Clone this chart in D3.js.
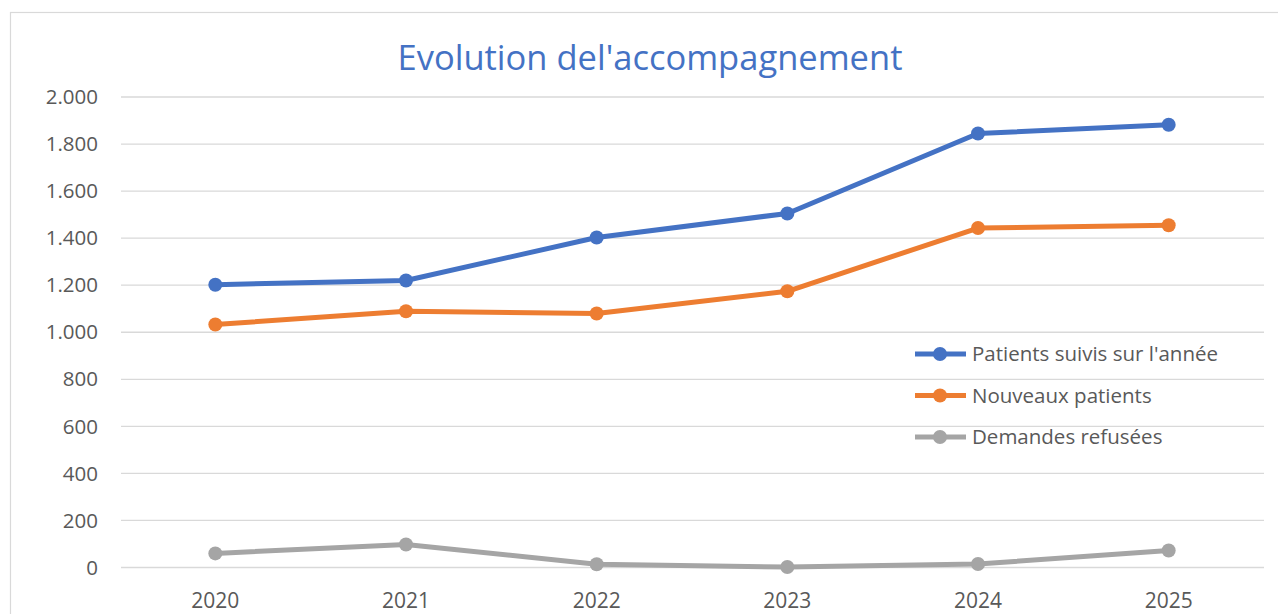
<!DOCTYPE html>
<html>
<head>
<meta charset="utf-8">
<script src="https://cdn.jsdelivr.net/npm/d3@7"></script>
<style>
  body { margin: 0; background: white; }
  text { font-family: "Open Sans", "Liberation Sans", sans-serif; }
</style>
</head>
<body>
<div id="chart"></div>
<script>
var years = ["2020","2021","2022","2023","2024","2025"]
var suivis = [1202, 1220, 1403, 1505, 1845, 1882]
var nouveaux = [1033, 1089, 1080, 1174, 1443, 1455]
var refusees = [60, 98, 14, 2, 15, 72]
var yTicks = [0, 200, 400, 600, 800, 1000, 1200, 1400, 1600, 1800, 2000]
var seriesNames = ["Patients suivis sur l'année", "Nouveaux patients", "Demandes refusées"]
var seriesColors = ["#4472C4", "#ED7D31", "#A5A5A5"]

var W = 1278, H = 614
var svg = d3.select("#chart").append("svg")
  .attr("width", W)
  .attr("height", H)

// chart frame
svg.append("rect")
  .attr("x", 10.5).attr("y", 12.5)
  .attr("width", 1300).attr("height", 700)
  .attr("fill", "white")
  .attr("stroke", "#d9d9d9")
  .attr("stroke-width", 1.2)

var x = d3.scaleBand().domain(years).range([120, 1264])
var y = d3.scaleLinear().domain([0, 2000]).range([567.5, 97])

// gridlines
svg.append("g").selectAll("line")
  .data(yTicks)
  .enter()
  .append("line")
  .attr("x1", 121).attr("x2", 1264)
  .attr("y1", function(d){ return y(d) })
  .attr("y2", function(d){ return y(d) })
  .attr("stroke", "#d9d9d9")
  .attr("stroke-width", 1.3)

// y labels
function fmt(d)
{
  return d3.format(",")(d).replace(/,/g, ".")
}
svg.append("g").selectAll("text")
  .data(yTicks)
  .enter()
  .append("text")
  .attr("x", 98)
  .attr("y", function(d){ return y(d) })
  .attr("dy", "0.35em")
  .attr("text-anchor", "end")
  .attr("font-size", 20.5)
  .attr("fill", "#595959")
  .text(fmt)

// x labels
svg.append("g").selectAll("text")
  .data(years)
  .enter()
  .append("text")
  .attr("x", function(d){ return x(d) + x.bandwidth()/2 })
  .attr("y", 608)
  .attr("text-anchor", "middle")
  .attr("font-size", 21)
  .attr("fill", "#595959")
  .text(function(d){ return d })

// title
svg.append("text")
  .attr("x", 650).attr("y", 70)
  .attr("text-anchor", "middle")
  .attr("font-size", 34.5)
  .attr("fill", "#4472C4")
  .text("Evolution del'accompagnement")

var allSeries = [suivis, nouveaux, refusees]
var line = d3.line()
  .x(function(d,i){ return x(years[i]) + x.bandwidth()/2 })
  .y(function(d){ return y(d) })

allSeries.forEach(function(vals, s)
{
  var g = svg.append("g")
  g.append("path")
    .attr("d", line(vals))
    .attr("fill", "none")
    .attr("stroke", seriesColors[s])
    .attr("stroke-width", 5)
    .attr("stroke-linejoin", "round")
    .attr("stroke-linecap", "round")
  g.selectAll("circle")
    .data(vals)
    .enter()
    .append("circle")
    .attr("cx", function(d,i){ return x(years[i]) + x.bandwidth()/2 })
    .attr("cy", function(d){ return y(d) })
    .attr("r", 7)
    .attr("fill", seriesColors[s])
})

// legend
var legend = svg.append("g").selectAll("g")
  .data(seriesNames)
  .enter()
  .append("g")
  .attr("transform", function(d,i){ return "translate(915," + (354 + i*41.5) + ")" })

legend.append("line")
  .attr("x1", 0).attr("x2", 51)
  .attr("stroke", function(d,i){ return seriesColors[i] })
  .attr("stroke-width", 5)
legend.append("circle")
  .attr("cx", 25).attr("r", 7)
  .attr("fill", function(d,i){ return seriesColors[i] })
legend.append("text")
  .attr("x", 57)
  .attr("dy", "0.35em")
  .attr("font-size", 20.5)
  .attr("fill", "#595959")
  .text(function(d){ return d })
</script>
</body>
</html>
